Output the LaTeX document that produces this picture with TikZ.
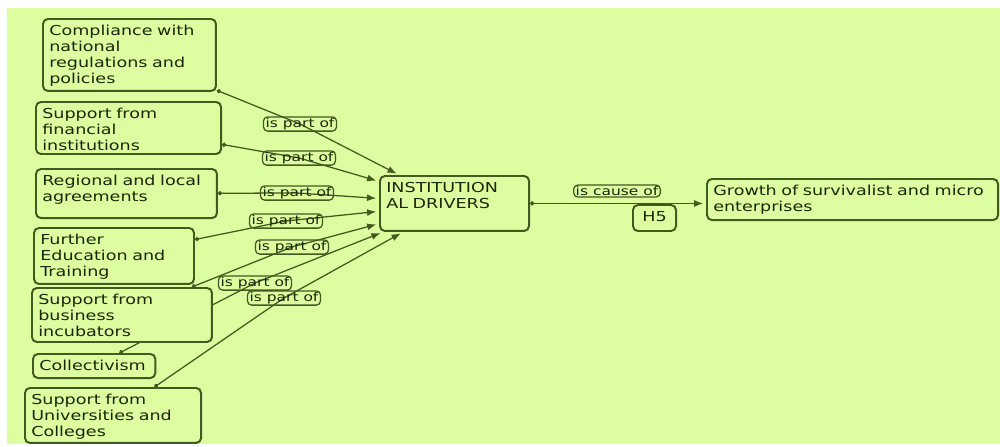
\documentclass[tikz,border=0pt]{standalone}
\usepackage{fontspec}
\setmainfont{DejaVu Sans}[FakeStretch=1.28]
\usetikzlibrary{arrows.meta,backgrounds}
\definecolor{mapbg}{RGB}{220,254,160}
\definecolor{mapline}{RGB}{66,90,30}
\definecolor{maptext}{RGB}{28,38,10}
\tikzset{
  concept/.style={draw=mapline, fill=mapbg, line width=1.4pt, rounded corners=3.5pt,
    anchor=north west, align=left, inner xsep=4.5pt, inner ysep=4pt, text height=7.5pt,
    text=maptext, font=\fontsize{9.75}{11.4}\selectfont},
  phrase/.style={draw=mapline, line width=0.9pt, rounded corners=3pt, inner xsep=1.5pt,
    inner ysep=0.9pt, text=maptext, font=\fontsize{8.6}{10}\selectfont},
  link/.style={draw=mapline, line width=0.9pt,
    {Circle[length=3pt]}-{Latex[length=6.5pt,width=5pt]}, shorten >=2pt}
}
\begin{document}
\begin{tikzpicture}[x=0.025cm, y=-0.025cm]
  \def\cpt#1#2#3#4#5{
    \node[concept, text width=#3pt, text depth=#4pt] (#1) at (#2) {#5};
  }
  \useasboundingbox (0,0) rectangle (1000,447);

  \cpt{comp}{42,18}{114}{35.7}{Compliance with\\national\\regulations and\\policies}
  \cpt{fin}{35,101}{122.6}{21.5}{Support from\\financial\\institutions}
  \cpt{reg}{35,168}{119.7}{19.4}{Regional and local\\agreements}
  \cpt{fet}{33,227}{104.8}{24.3}{Further\\Education and\\Training}
  \cpt{inc}{31,287}{119}{22.9}{Support from\\business\\incubators}
  \cpt{col}{32,353}{78}{1.6}{Collectivism}
  \cpt{uni}{24,387}{116.2}{23.6}{Support from\\Universities and\\Colleges}
  \cpt{inst}{379,175}{97}{23.6}{INSTITUTION\\AL DRIVERS}
  \cpt{grow}{706,178}{198}{13.7}{Growth~of~survivalist~and~micro\\enterprises}
  \node[concept, align=center, text width=21.6pt, text depth=3pt] (h5) at (632,204) {H5};

  \foreach \x/\y [count=\i] in {300/124,299/158,297/193,286/221,292/247,255/283,284/298}
    \node[phrase] (l\i) at (\x,\y) {is part of};
  \node[phrase] (cause) at (617,191) {is cause of};

  \begin{scope}[on background layer]
    \fill[white] (0,0) rectangle (1000,447);
    \fill[mapbg] (7,8) rectangle (1000,444);
    \foreach \s [count=\i] in {comp,fin,reg,fet,inc,col,uni}
      \draw[link] (\s) -- (l\i.center) -- (inst);
    \draw[link] (inst.east) -- (grow.west |- inst.east);
  \end{scope}
\end{tikzpicture}
\end{document}
